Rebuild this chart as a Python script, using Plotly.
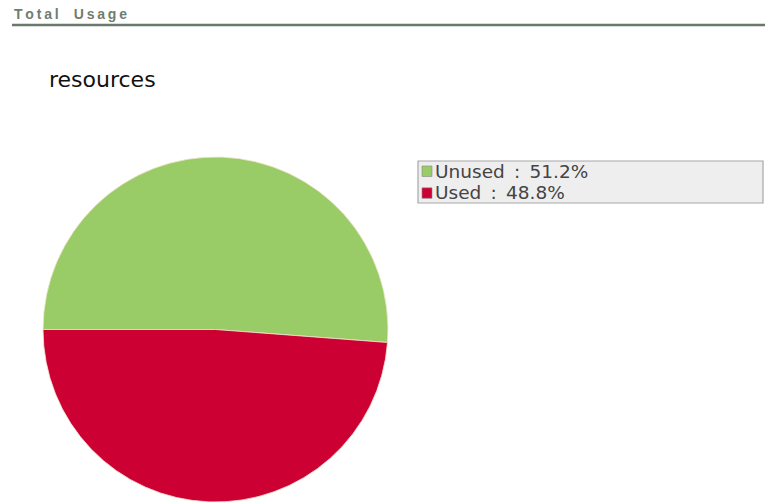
import plotly.graph_objects as go

W, H = 765, 503

labels = ["Unused", "Used"]
values = [51.2, 48.8]
colors = ["#99CC66", "#CC0033"]
chart_title = "resources"
header = "Total Usage"


def px_x(x):
    return x / W


def px_y(y):
    return 1 - y / H


fig = go.Figure()
fig.add_trace(go.Pie(
    labels=labels,
    values=values,
    sort=False,
    direction="clockwise",
    rotation=270,
    textinfo="none",
    hoverinfo="label+percent",
    marker=dict(colors=colors, line=dict(color="#f3e6d0", width=0.8)),
    domain=dict(x=[px_x(43), px_x(388)], y=[px_y(502), px_y(157)]),
    showlegend=False,
))

annotations = []
shapes = []

# header with underline (letter-spaced)
spaced = "\u2009".join(list(header)).replace("\u2009 \u2009", "\u2009\u2009 \u2009\u2009")
annotations.append(dict(
    text=spaced,
    x=px_x(12), y=px_y(24), xref="paper", yref="paper",
    xanchor="left", yanchor="bottom", showarrow=False,
    font=dict(family="Liberation Sans, Arial", size=14, color="#6f7d70", weight="bold"),
))
shapes.append(dict(type="line", xref="paper", yref="paper",
                   x0=px_x(12), x1=1, y0=px_y(25), y1=px_y(25),
                   line=dict(color="#6a786c", width=2.5)))

# chart title
annotations.append(dict(
    text=chart_title,
    x=px_x(47), y=px_y(94), xref="paper", yref="paper",
    xanchor="left", yanchor="bottom", showarrow=False,
    font=dict(family="DejaVu Sans, Verdana", size=22, color="#111111"),
))

# legend box
shapes.append(dict(type="rect", xref="paper", yref="paper",
                   x0=px_x(418), x1=px_x(763), y0=px_y(203), y1=px_y(161),
                   fillcolor="#eeeeee", line=dict(color="#a8a8a8", width=1.2),
                   layer="below"))

total = sum(values)
row_y = [171, 192.8]
for i, (lab, val, col) in enumerate(zip(labels, values, colors)):
    cy = row_y[i]
    shapes.append(dict(type="rect", xref="paper", yref="paper",
                       x0=px_x(422), x1=px_x(432), y0=px_y(cy + 5.5), y1=px_y(cy - 5),
                       fillcolor=col, line=dict(color="#888888", width=0.6)))
    pct = 100 * val / total
    annotations.append(dict(
        text=f"{lab}\u2002:\u2002{pct:.1f}%",
        x=px_x(433), y=px_y(cy), xref="paper", yref="paper",
        xanchor="left", yanchor="middle", showarrow=False,
        font=dict(family="DejaVu Sans, Verdana", size=18.5, color="#444444"),
    ))

fig.update_layout(
    width=W, height=H,
    margin=dict(l=0, r=0, t=0, b=0),
    paper_bgcolor="white",
    plot_bgcolor="white",
    annotations=annotations,
    shapes=shapes,
)

fig.write_html("out.html", config={"displayModeBar": False})
